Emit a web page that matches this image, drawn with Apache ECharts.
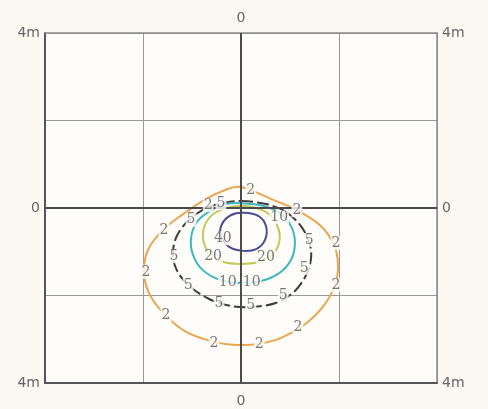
<!DOCTYPE html>
<html><head><meta charset="utf-8">
<script src="https://cdn.jsdelivr.net/npm/echarts@6/dist/echarts.min.js"></script>
<style>html,body{margin:0;padding:0;background:#fcf8f2}#c{width:488px;height:409px}</style>
</head><body><div id="c"></div>
<script>
// Contour lines (metres) (closed curves)
const contour2 = [[0,0.48],[0.67,0.18],[1.14,-0.05],[1.63,-0.41],[1.9,-0.85],[1.98,-1.3],[1.92,-1.76],[1.67,-2.26],[1.29,-2.67],[0.82,-2.97],[0.35,-3.11],[-0.1,-3.13],[-0.55,-3.06],[-1.12,-2.83],[-1.57,-2.42],[-1.88,-1.94],[-1.98,-1.46],[-1.9,-0.96],[-1.59,-0.5],[-1.18,-0.14],[-0.71,0.21],[-0.37,0.39]];
const contour5 = [[0,0.16],[0.51,0.09],[0.92,-0.09],[1.22,-0.41],[1.39,-0.78],[1.43,-1.14],[1.33,-1.53],[1.08,-1.92],[0.71,-2.17],[0.24,-2.26],[-0.2,-2.24],[-0.65,-2.08],[-1.06,-1.78],[-1.31,-1.42],[-1.39,-1.05],[-1.31,-0.64],[-1.06,-0.27],[-0.71,0],[-0.37,0.11]];
const contour10 = [[0,0.11],[0.45,0.05],[0.82,-0.14],[1.04,-0.46],[1.1,-0.82],[1.02,-1.19],[0.78,-1.49],[0.41,-1.67],[0,-1.71],[-0.41,-1.65],[-0.78,-1.42],[-0.98,-1.07],[-1.02,-0.69],[-0.9,-0.32],[-0.61,-0.05],[-0.31,0.09]];
const contour20 = [[0,0.05],[0.37,-0.02],[0.61,-0.18],[0.76,-0.46],[0.78,-0.78],[0.65,-1.05],[0.37,-1.23],[0,-1.28],[-0.37,-1.23],[-0.63,-1.05],[-0.76,-0.78],[-0.76,-0.46],[-0.61,-0.18],[-0.35,-0.02]];
const contour40 = [[0.06,-0.11],[0.35,-0.18],[0.51,-0.41],[0.49,-0.73],[0.31,-0.94],[0.04,-0.98],[-0.24,-0.89],[-0.41,-0.64],[-0.39,-0.37],[-0.2,-0.16]];
// Contour labels [x, y, text]
const contourLabels = [
  [-0.37,-0.69,'40'],
  [-0.57,-1.1,'20'],[0.51,-1.12,'20'],
  [-0.27,-1.69,'10'],[0.22,-1.71,'10'],[0.78,-0.21,'10'],
  [-1.02,-0.27,'5'],[-0.41,0.11,'5'],[-1.37,-1.1,'5'],[-1.08,-1.76,'5'],[-0.45,-2.17,'5'],[0.2,-2.22,'5'],[0.86,-1.99,'5'],[1.29,-1.37,'5'],[1.39,-0.73,'5'],
  [0.2,0.41,'2'],[-0.67,0.07,'2'],[-1.57,-0.5,'2'],[-1.94,-1.46,'2'],[-1.53,-2.45,'2'],[-0.55,-3.09,'2'],[0.37,-3.11,'2'],[1.16,-2.72,'2'],[1.94,-1.76,'2'],[1.94,-0.8,'2'],[1.14,-0.05,'2']
];
const xTickLabels = {'0':'0'};
const yTickLabels = {'4':'4m','0':'0','-4':'4m'};

const plotBg = '#fffdf9';
const chart = echarts.init(document.getElementById('c'));

function contourSeries(data, color, dashed){
  return {
    type:'custom', data:data, silent:true, z:3, clip:true,
    encode:{x:0, y:1},
    renderItem:function(params, api){
      if (params.dataIndex !== 0) return null;
      const pts = data.map(p => api.coord(p));
      const n = pts.length;
      let d = 'M' + pts[0][0] + ' ' + pts[0][1];
      for (let i = 0; i < n; i++){
        const p0 = pts[(i - 1 + n) % n], p1 = pts[i], p2 = pts[(i + 1) % n], p3 = pts[(i + 2) % n];
        const c1x = p1[0] + (p2[0] - p0[0]) / 6, c1y = p1[1] + (p2[1] - p0[1]) / 6;
        const c2x = p2[0] - (p3[0] - p1[0]) / 6, c2y = p2[1] - (p3[1] - p1[1]) / 6;
        d += ' C' + c1x + ' ' + c1y + ' ' + c2x + ' ' + c2y + ' ' + p2[0] + ' ' + p2[1];
      }
      d += ' Z';
      return {type:'path', shape:{pathData:d},
        style:{stroke:color, fill:'none', lineWidth:2, lineDash: dashed ? [12,4] : null}};
    }
  };
}
const axisLabelStyle = {color:'#666', fontSize:14, fontFamily:'DejaVu Sans'};
chart.setOption({
  animation:false,
  backgroundColor:'#fcf8f2',
  grid:{left:45, top:33, width:392, height:350, show:true, backgroundColor:plotBg, borderWidth:0},
  xAxis:[
    {type:'value', min:-4, max:4, interval:2, position:'bottom',
     axisLine:{show:true, onZero:false, lineStyle:{color:'#555', width:2}}, axisTick:{show:false},
     splitLine:{show:true, lineStyle:{color:'#999', width:1}},
     axisLabel:Object.assign({margin:11, formatter:v => xTickLabels[String(v)] || ''}, axisLabelStyle)},
    {type:'value', min:-4, max:4, interval:2, position:'top',
     axisLine:{show:true, onZero:false, lineStyle:{color:'#8a8a8a', width:1.5}}, axisTick:{show:false},
     splitLine:{show:false},
     axisLabel:Object.assign({margin:8, formatter:v => xTickLabels[String(v)] || ''}, axisLabelStyle)}
  ],
  yAxis:[
    {type:'value', min:-4, max:4, interval:2, position:'left',
     axisLine:{show:true, onZero:false, lineStyle:{color:'#555', width:2}}, axisTick:{show:false},
     splitLine:{show:true, lineStyle:{color:'#999', width:1}},
     axisLabel:Object.assign({margin:5, formatter:v => yTickLabels[String(v)] || ''}, axisLabelStyle)},
    {type:'value', min:-4, max:4, interval:2, position:'right',
     axisLine:{show:true, onZero:false, lineStyle:{color:'#8a8a8a', width:1.5}}, axisTick:{show:false},
     splitLine:{show:false},
     axisLabel:Object.assign({margin:5, formatter:v => yTickLabels[String(v)] || ''}, axisLabelStyle)}
  ],
  series:[
    {type:'line', data:[], silent:true, z:2,
     markLine:{silent:true, symbol:'none', label:{show:false},
       lineStyle:{color:'#4a4a4a', width:2, type:'solid'},
       data:[{xAxis:0},{yAxis:0}]}},
    contourSeries(contour2, '#eaa64c', false),
    contourSeries(contour5, '#3c3c3c', true),
    contourSeries(contour10, '#3fb7c3', false),
    contourSeries(contour20, '#bfca55', false),
    contourSeries(contour40, '#4c4b95', false),
    {type:'scatter', data:contourLabels, symbolSize:0, silent:true, z:5,
     label:{show:true, position:'inside', formatter:p => p.value[2],
       color:'#555', fontSize:14, fontFamily:'DejaVu Serif', backgroundColor:plotBg, padding:[0,1]}}
  ]
});
</script></body></html>
